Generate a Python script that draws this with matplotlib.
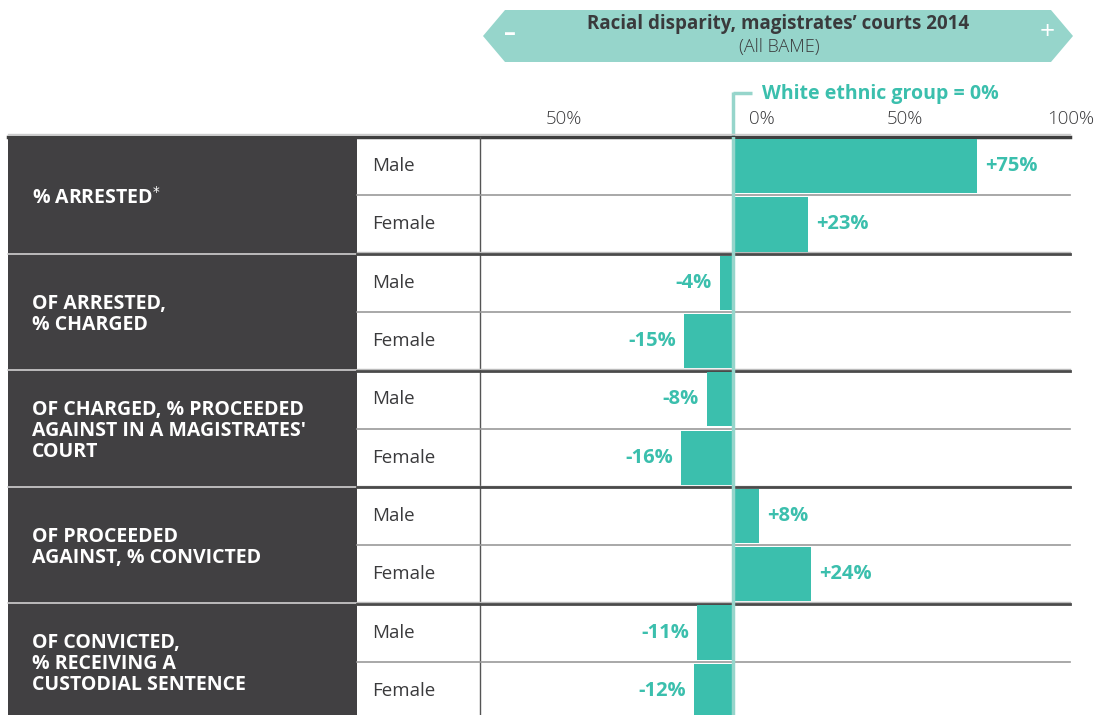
import numpy as np
import matplotlib.pyplot as plt
from matplotlib.patches import Polygon, Rectangle

plt.rcParams['font.family'] = ['Open Sans', 'DejaVu Sans']

# data
groups = ["% ARRESTED$^{*}$", "OF ARRESTED,\n% CHARGED",
          "OF CHARGED, % PROCEEDED\nAGAINST IN A MAGISTRATES'\nCOURT",
          "OF PROCEEDED\nAGAINST, % CONVICTED",
          "OF CONVICTED,\n% RECEIVING A\nCUSTODIAL SENTENCE"]
sexes = ["Male", "Female"]
male = [75, -4, -8, 8, -11]
female = [23, -15, -16, 24, -12]
tick_labels = ["50%", "0%", "50%", "100%"]

teal = "#3bbfad"
light_teal = "#96d5cb"
dark = "#414042"
txt = "#3a3a3c"

W, H = 1095, 715
fig = plt.figure(figsize=(W / 100, H / 100), dpi=100)
bg = fig.add_axes([0, 0, 1, 1])
bg.set_xlim(0, W)
bg.set_ylim(H, 0)
bg.axis('off')

top, rowh = 137, 58.3
nrows = 2 * len(groups)

# header arrow
bg.add_patch(Polygon([(483, 36), (505, 10), (1051, 10), (1073, 36), (1051, 62), (505, 62)],
                     closed=True, color=light_teal, lw=0))
bg.text(778, 24, "Racial disparity, magistrates\u2019 courts 2014", ha='center', va='center',
        fontsize=13.5, fontweight='bold', color=txt)
bg.text(779, 47, "(All BAME)", ha='center', va='center', fontsize=13, fontweight='light', color=txt)
bg.text(510, 34, "\u2013", ha='center', va='center', fontsize=17, color='white', fontweight='bold')
bg.text(1047, 33, "+", ha='center', va='center', fontsize=19, color='white')

# tick labels
for x, lab in zip([564, 762, 905, 1071], tick_labels):
    bg.text(x, 119, lab, ha='center', va='center', fontsize=13.5, fontweight='light', color=txt)

# white ethnic group bracket
bg.plot([733, 752], [93, 93], color=light_teal, lw=2.5, solid_capstyle='butt')
bg.plot([733, 733], [92, 137], color=light_teal, lw=2.5, solid_capstyle='butt')
bg.text(762, 94, "White ethnic group = 0%", ha='left', va='center', fontsize=14,
        fontweight='bold', color=teal)

# table frame
bg.plot([8, 1070], [134, 134], color="#cccccc", lw=1)
bg.plot([8, 1070], [136.5, 136.5], color="#3f3f3f", lw=2.5)
bg.add_patch(Rectangle((8, 138), 349, H - 138, color=dark, lw=0))
bg.plot([480, 480], [137, H], color="#555555", lw=1)

for k in range(1, nrows):
    y = top + k * rowh
    if k % 2 == 0:
        bg.plot([8, 357], [y, y], color="#d0d0d0", lw=1.2)
        bg.plot([357, 1070], [y - 1.2, y - 1.2], color="#bbbbbb", lw=1)
        bg.plot([357, 1070], [y + 0.5, y + 0.5], color="#4a4a4a", lw=2)
    else:
        bg.plot([357, 1070], [y, y], color="#999999", lw=1.2)

for g, name in enumerate(groups):
    yc = top + (2 * g + 1) * rowh + 2.5
    bg.text(32, yc, name, ha='left', va='center', fontsize=14, fontweight='bold',
            color='white', linespacing=1.08)
    for s, sex in enumerate(sexes):
        bg.text(372, top + (2 * g + s + 0.5) * rowh, sex, ha='left', va='center',
                fontsize=13.5, color=txt)

# bars
x0, x1, zero_px, scale = 480, 1070, 733, 3.25
ax = fig.add_axes([x0 / W, 1 - (top + nrows * rowh) / H, (x1 - x0) / W, nrows * rowh / H])
ax.patch.set_alpha(0)
ax.set_xlim(-(zero_px - x0) / scale, (x1 - zero_px) / scale)
ax.set_ylim(nrows - 0.5, -0.5)
ax.axis('off')

vals = np.array([[m, f] for m, f in zip(male, female)]).ravel()
ypos = np.arange(nrows)
ax.barh(ypos, vals, height=0.93, color=teal, zorder=2)
ax.axvline(0, color=light_teal, lw=2.5, zorder=3)
for y, v in zip(ypos, vals):
    lab = f"+{v}%" if v > 0 else f"{v}%"
    off = 2.5 if v > 0 else -2.5
    ax.text(v + off, y, lab, ha='left' if v > 0 else 'right', va='center',
            fontsize=14.5, fontweight='bold', color=teal)

fig.savefig("out.png", dpi=100)
